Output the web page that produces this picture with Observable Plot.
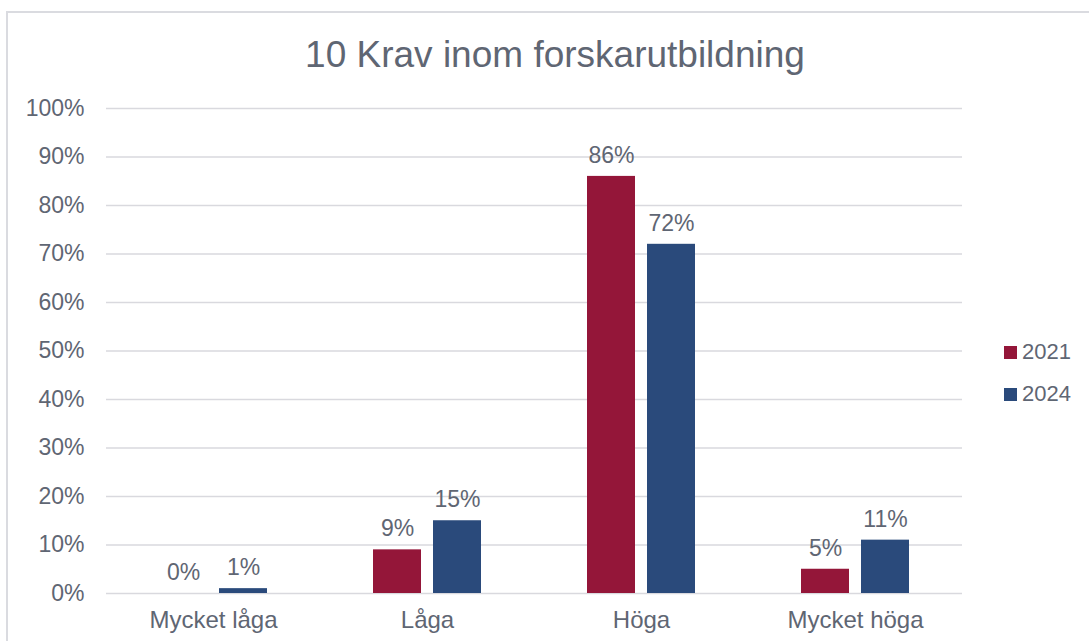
<!DOCTYPE html>
<html>
<head>
<meta charset="utf-8">
<script src="https://cdn.jsdelivr.net/npm/d3@7"></script>
<script src="https://cdn.jsdelivr.net/npm/@observablehq/plot@0.6"></script>
<style>
  html, body { margin: 0; padding: 0; background: #fff; }
  body { width: 1089px; height: 641px; overflow: hidden; position: relative; font-family: "Liberation Sans", Arial, sans-serif; }
  #frame { position: absolute; left: 6px; top: 11px; width: 1100px; height: 700px; border-left: 2px solid #dadbe0; border-top: 2px solid #dadbe0; }
  #title { position: absolute; left: 0; width: 1110px; top: 33px; text-align: center; font-size: 37px; color: #5f6673; line-height: 44px; }
  #chart { position: absolute; left: 0; top: 0; }
  #legend { position: absolute; left: 1004px; top: 331px; font-size: 22px; color: #5f6673; }
  .li { display: flex; align-items: center; height: 42px; }
  .sw { width: 13px; height: 13px; margin-right: 5px; }
</style>
</head>
<body>
<div id="frame"></div>
<div id="title">10 Krav inom forskarutbildning</div>
<div id="chart"></div>
<div id="legend"></div>
<script>
const categories = ["Mycket låga", "Låga", "Höga", "Mycket höga"];
const years = ["2021", "2024"];
const values2021 = [0, 9, 86, 5];
const values2024 = [1, 15, 72, 11];
const colors = ["#941639", "#2a4a7b"];
const yTicks = [0, 10, 20, 30, 40, 50, 60, 70, 80, 90, 100];

const data = [];
categories.forEach((c, i) => {
  data.push({category: c, year: years[0], value: values2021[i]});
  data.push({category: c, year: years[1], value: values2024[i]});
});

const textColor = "#5f6673";
const chart = Plot.plot({
  width: 1089,
  height: 641,
  marginTop: 108,
  marginBottom: 48,
  marginLeft: 106,
  marginRight: 127,
  style: {fontFamily: "Liberation Sans, Arial, sans-serif", fontSize: "22px", color: textColor, background: "transparent"},
  fx: {domain: categories, padding: 0, label: null},
  x: {domain: years, paddingInner: 0.197, paddingOuter: 0.853, axis: null},
  y: {domain: [0, 100], label: null},
  color: {domain: years, range: colors},
  marks: [
    Plot.gridY(yTicks, {stroke: "#d9d9de", strokeOpacity: 1, strokeWidth: 1.5}),
    Plot.axisY(yTicks, {tickSize: 0, tickPadding: 22, tickFormat: d => d + "%", fontSize: 23, fill: textColor}),
    Plot.axisFx({tickSize: 0, tickPadding: 17, fontSize: 24, fill: textColor, anchor: "bottom"}),
    Plot.barY(data, {fx: "category", x: "year", y: "value", fill: "year"}),
    Plot.text(data, {fx: "category", x: "year", y: "value", text: d => d.value + "%", dy: -21, fontSize: 23, fill: textColor})
  ]
});
document.getElementById("chart").appendChild(chart);

const legend = document.getElementById("legend");
years.forEach((y, i) => {
  const row = document.createElement("div");
  row.className = "li";
  const sw = document.createElement("span");
  sw.className = "sw";
  sw.style.background = colors[i];
  const t = document.createElement("span");
  t.textContent = y;
  row.appendChild(sw);
  row.appendChild(t);
  legend.appendChild(row);
});
</script>
</body>
</html>
